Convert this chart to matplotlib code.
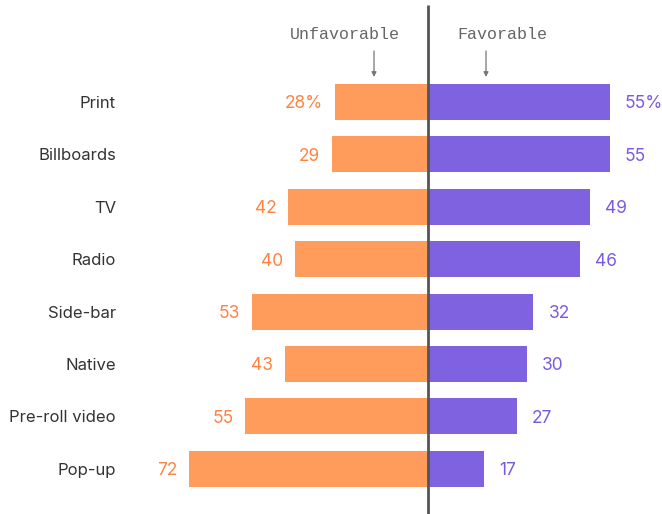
import matplotlib.pyplot as plt

# Data
channels = ["Print", "Billboards", "TV", "Radio", "Side-bar", "Native", "Pre-roll video", "Pop-up"]
unfavorable = [28, 29, 42, 40, 53, 43, 55, 72]
favorable = [55, 55, 49, 46, 32, 30, 27, 17]

orange = "#ff9c5b"
orange_text = "#ff8340"
purple = "#7f62e0"
purple_text = "#7a5be0"

W, H = 662, 514
px = 3.31          # pixels per percentage point
x0 = 427.5         # pixel position of the zero line
y0, dy = 102, 52.4  # first row centre and row spacing in pixels

fig = plt.figure(figsize=(W / 100, H / 100), dpi=100)
ax = fig.add_axes([0, 0, 1, 1])
ax.set_xlim(-x0 / px, (W - x0) / px)
ax.set_ylim((H - y0) / dy, -y0 / dy)
ax.axis("off")

rows = range(len(channels))
ax.barh(rows, [-v for v in unfavorable], height=0.69, color=orange)
ax.barh(rows, favorable, height=0.69, color=purple)

sans = "Inter"
for i, (u, f) in enumerate(zip(unfavorable, favorable)):
    suffix = "%" if i == 0 else ""
    ax.text(-u - 12 / px, i, f"{u}{suffix}", ha="right", va="center_baseline",
            fontsize=12.5, family=sans, color=orange_text)
    ax.text(f + 15 / px, i, f"{f}{suffix}", ha="left", va="center_baseline",
            fontsize=12.5, family=sans, color=purple_text)
    ax.text((116 - x0) / px, i, channels[i], ha="right", va="center_baseline",
            fontsize=12, family=sans, color="#333333")

# zero line
ax.plot([0, 0], [-(y0 - 5) / dy, (H - y0) / dy], color="#555555", lw=2, solid_capstyle="butt")

# column headers with arrows
head_y = -(y0 - 33) / dy
for label, cx, ax_x in [("Unfavorable", 345, 374), ("Favorable", 502, 486)]:
    ax.text((cx - x0) / px, head_y, label, ha="center", va="center_baseline",
            fontsize=12, family="Liberation Mono", color="#666666")
    ax.annotate("", xy=((ax_x - x0) / px, -(y0 - 77) / dy),
                xytext=((ax_x - x0) / px, -(y0 - 51) / dy),
                arrowprops=dict(arrowstyle="-|>", color="#777777", lw=0.9,
                                mutation_scale=7, shrinkA=0, shrinkB=0))

fig.savefig("out.png", dpi=100)
